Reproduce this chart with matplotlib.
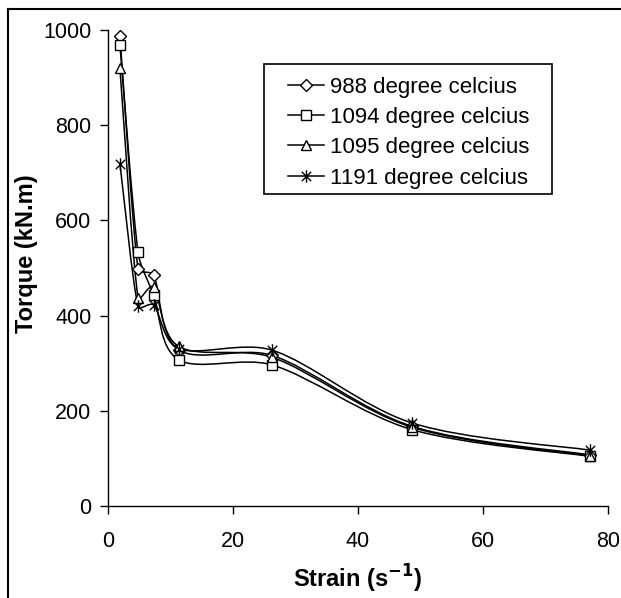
import numpy as np
import matplotlib
matplotlib.use("Agg")
import matplotlib.pyplot as plt
from matplotlib.path import Path
from matplotlib.patches import PathPatch, Rectangle
from matplotlib.lines import Line2D

plt.rcParams["font.family"] = ["Liberation Sans", "DejaVu Sans"]

# strain rate [1/s] and torque [kN.m]
strain = [1.9, 4.8, 7.3, 11.3, 26.3, 48.7, 77.2]
t988 = [987, 498, 485, 328, 316, 167, 107]
t1094 = [968, 533, 443, 307, 296, 160, 104]
t1095 = [919, 437, 460, 335, 312, 165, 105]
t1191 = [719, 419, 422, 330, 327, 174, 117]

# asterisk like Excel's: vertical bar plus an X
star = Path([(0, -1), (0, 1), (-0.75, -0.75), (0.75, 0.75), (-0.75, 0.75), (0.75, -0.75)],
            [Path.MOVETO, Path.LINETO] * 3)

series = [("988 degree celcius", t988, "D", 6),
          ("1094 degree celcius", t1094, "s", 6.5),
          ("1095 degree celcius", t1095, "^", 7.5),
          ("1191 degree celcius", t1191, star, 9)]


def smooth_path(ax, x, y):
    # smoothed line (cubic Bezier through each point), built in pixel space
    p = ax.transData.transform(np.column_stack([x, y]).astype(float))
    n = len(p)
    verts = [p[0]]
    codes = [Path.MOVETO]
    for i in range(n - 1):
        a, b = p[i], p[i + 1]
        seg = np.hypot(*(b - a))
        t1 = (b - (p[i - 1] if i > 0 else a)) / 6
        t2 = ((p[i + 2] if i + 2 < n else b) - a) / 6
        for t in (t1, t2):
            L = np.hypot(*t)
            if L > seg / 3:
                t *= seg / 3 / L
        verts += [a + t1, b - t2, b]
        codes += [Path.CURVE4] * 3
    verts = ax.transData.inverted().transform(np.array(verts))
    return Path(verts, codes)


fig = plt.figure(figsize=(6.21, 5.98), dpi=100)
ax = fig.add_axes([0.174, 0.154, 0.805, 0.796])
ax.set_xlim(0, 80)
ax.set_ylim(0, 1000)

handles = []
for label, vals, mk, ms in series:
    ax.add_patch(PathPatch(smooth_path(ax, strain, vals), fc="none", ec="black", lw=1.1))
    ax.plot(strain, vals, ls="none", marker=mk, ms=ms, mfc="white", mec="black", mew=1.0)
    handles.append(Line2D([], [], color="black", lw=1.1, marker=mk, ms=ms,
                          mfc="white", mec="black", mew=1.0, label=label))

ax.set_xticks([0, 20, 40, 60, 80])
ax.set_yticks([0, 200, 400, 600, 800, 1000])
ax.spines["top"].set_visible(False)
ax.spines["right"].set_visible(False)
for s in ("left", "bottom"):
    ax.spines[s].set_linewidth(1.0)
ax.tick_params(direction="out", length=6, width=1.0, labelsize=15.5, pad=6)
ax.tick_params(axis="x", pad=12)
ax.set_xlabel("Strain (s$^{\\mathbf{-1}}$)", fontsize=17, fontweight="bold", labelpad=8)
ax.set_ylabel("Torque (kN.m)", fontsize=17, fontweight="bold")
ax.yaxis.set_label_coords(-0.14, 0.53)

leg = ax.legend(handles=handles, loc="upper left", bbox_to_anchor=(0.36, 0.902),
                fontsize=16, frameon=False, borderpad=0, borderaxespad=0,
                handlelength=1.6, handletextpad=0.3, labelspacing=0.42)
# legend box, wider than the entries as in the original
fig.add_artist(Rectangle((264 / 621, 1 - 194 / 598), 288 / 621, 130 / 598,
                         fc="none", ec="black", lw=1.2, transform=fig.transFigure))

# outer frame (top and left edges visible)
fig.add_artist(Line2D([8 / 621, 1], [1 - 9 / 598, 1 - 9 / 598], color="black", lw=1.5,
                      transform=fig.transFigure))
fig.add_artist(Line2D([8 / 621, 8 / 621], [0, 1 - 9 / 598], color="black", lw=1.5,
                      transform=fig.transFigure))

fig.savefig("out.png", dpi=100)
